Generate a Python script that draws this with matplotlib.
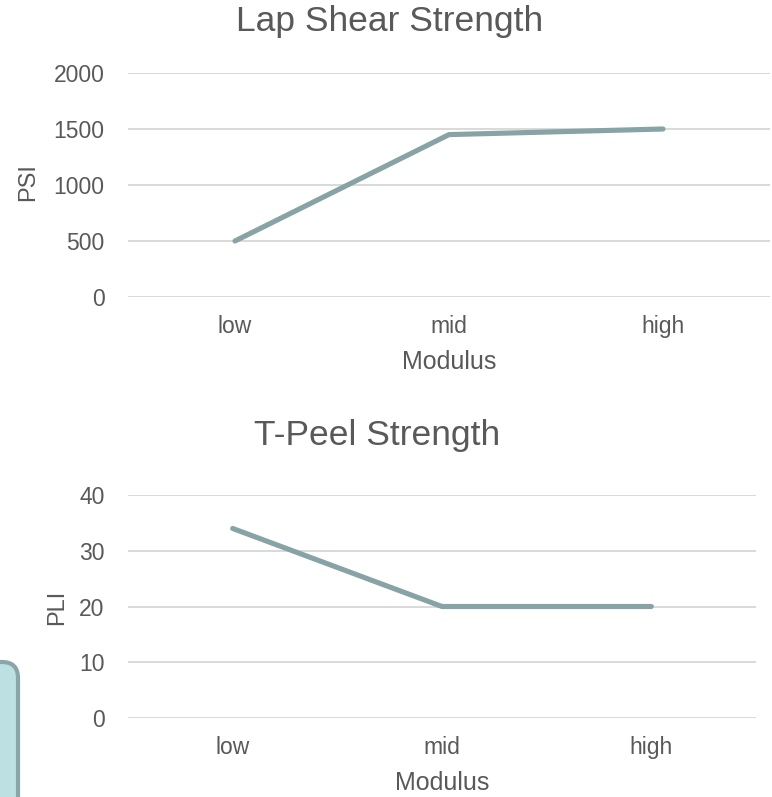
import matplotlib.pyplot as plt
from matplotlib.patches import FancyBboxPatch

# Data
categories = ['low', 'mid', 'high']
lap_shear = [500, 1450, 1500]
t_peel = [34, 20, 20]
lap_ticks = [0, 500, 1000, 1500, 2000]
peel_ticks = [0, 10, 20, 30, 40]

plt.rcParams['font.family'] = ['Liberation Sans', 'DejaVu Sans']
text_col = '#595959'
line_col = '#87A3A5'
grid_col = '#D9D9D9'

W, H = 772, 797
fig = plt.figure(figsize=(W / 100, H / 100), dpi=100)


def fx(x):
    return x / W


def fy(y):
    return 1 - y / H


def make_axes(rect, values, yticks):
    ax = fig.add_axes(rect)
    pos = [i + 0.5 for i in range(len(categories))]
    ax.plot(pos, values, color=line_col, lw=3.7, solid_capstyle='round',
            solid_joinstyle='round', zorder=3)
    ax.set_xlim(0, len(categories))
    ax.set_ylim(yticks[0], yticks[-1])
    ax.set_yticks(yticks)
    ax.set_xticks(pos)
    ax.set_xticklabels(categories)
    ax.yaxis.grid(True, color=grid_col, lw=1.4)
    ax.set_axisbelow(True)
    for s in ax.spines.values():
        s.set_visible(False)
    ax.tick_params(length=0, labelsize=16.5, labelcolor=text_col)
    ax.tick_params(axis='y', pad=17)
    ax.tick_params(axis='x', pad=13)
    return ax


# Top chart: Lap Shear Strength
ax1 = make_axes([fx(128), fy(297), fx(642), 224 / H], lap_shear, lap_ticks)
fig.text(fx(390), fy(22), 'Lap Shear Strength', ha='center', va='center',
         fontsize=25.5, color=text_col)
fig.text(fx(449), fy(362), 'Modulus', ha='center', va='center',
         fontsize=18, color=text_col)
fig.text(fx(28), fy(182), 'PSI', ha='center', va='center', rotation=90,
         fontsize=17, color=text_col)

# Bottom chart: T-Peel Strength
ax2 = make_axes([fx(128), fy(718), fx(628), 223 / H], t_peel, peel_ticks)
fig.text(fx(377), fy(436), 'T-Peel Strength', ha='center', va='center',
         fontsize=25.5, color=text_col)
fig.text(fx(442), fy(783), 'Modulus', ha='center', va='center',
         fontsize=18, color=text_col)
fig.text(fx(57), fy(607), 'PLI', ha='center', va='center', rotation=90,
         fontsize=17, color=text_col)

# partially visible shape at the bottom left
box = FancyBboxPatch((-0.6, -0.6), 0.78, 0.6 + (H - 662) / 100,
                     boxstyle='round,pad=0,rounding_size=0.16',
                     transform=fig.dpi_scale_trans, facecolor='#BDE0E3',
                     edgecolor='#8AA6A8', lw=3)
fig.patches.append(box)

fig.savefig('out.png', dpi=100)
